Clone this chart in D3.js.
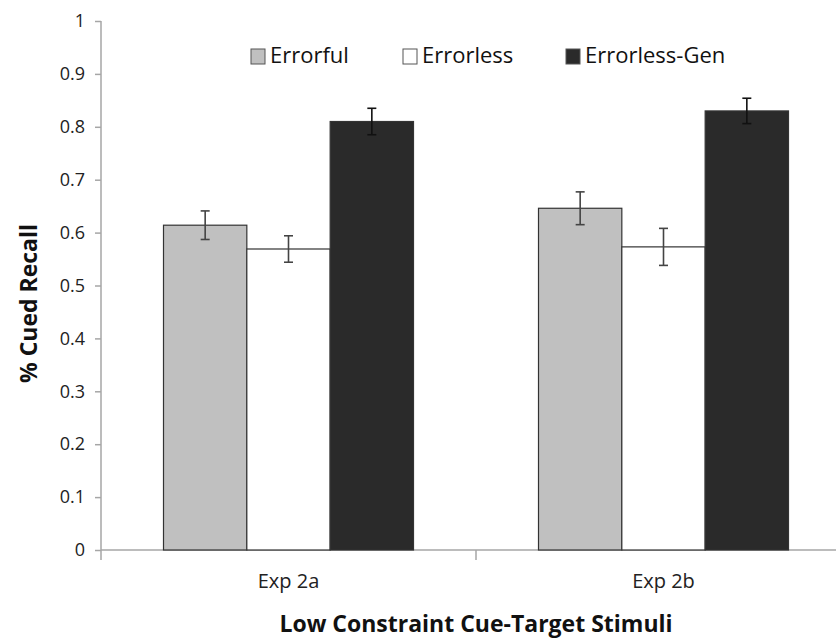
<!DOCTYPE html>
<html>
<head>
<meta charset="utf-8">
<script src="https://cdn.jsdelivr.net/npm/d3@7"></script>
<style>
  body { margin: 0; background: #fff; }
  svg { display: block; font-family: "Open Sans", Lato, sans-serif; }
</style>
</head>
<body>
<svg id="chart"></svg>
<script>
// data
const groups = ["Exp 2a", "Exp 2b"];
const series = ["Errorful", "Errorless", "Errorless-Gen"];
const means = [
    [0.614, 0.569, 0.810],
    [0.646, 0.573, 0.830],
];
const errors = [
    [0.027, 0.025, 0.025],
    [0.031, 0.035, 0.024],
];
const yTicks = [0, 0.1, 0.2, 0.3, 0.4, 0.5, 0.6, 0.7, 0.8, 0.9, 1];
const fills = ["#c0c0c0", "#ffffff", "#2a2a2a"];

const width = 836;
const height = 640;
const axisColor = "#a6a6a6";
const font = "'Open Sans', Lato, sans-serif";

let svg = d3.select("#chart").attr("width", width).attr("height", height);

// scales
let scaleY = d3.scaleLinear().domain([0, 1]).range([550, 21]);
let scaleX = d3.scaleBand()
    .domain(groups)
    .range([101, 851])
    .paddingInner(1 / 3)
    .paddingOuter(1 / 6);
let scaleSub = d3.scaleBand().domain(series).range([0, scaleX.bandwidth()]);

// y axis
let axisY = svg.append("g")
    .attr("transform", `translate(${scaleX.range()[0]}, 0)`)
    .call(d3.axisLeft(scaleY).tickValues(yTicks).tickSize(6).tickPadding(10)
        .tickFormat((d) => String(+d.toFixed(1))));
axisY.select(".domain").remove();
axisY.selectAll(".tick line").attr("stroke", axisColor).attr("stroke-width", 1.5);
axisY.selectAll("text").attr("fill", "#222").style("font-size", "18px").style("font-family", font);
axisY.append("line")
    .attr("x1", 0).attr("x2", 0)
    .attr("y1", scaleY(1)).attr("y2", scaleY(0) + 10)
    .attr("stroke", axisColor).attr("stroke-width", 1.5);

// x axis (line + tick marks between categories + labels)
let axisX = svg.append("g").attr("transform", `translate(0, ${scaleY(0)})`);
axisX.append("line")
    .attr("x1", scaleX.range()[0]).attr("x2", scaleX.range()[1])
    .attr("stroke", axisColor).attr("stroke-width", 1.5);
let step = scaleX.step();
let boundaries = groups.slice(1).map((g) => scaleX(g) - step / 6);
axisX.selectAll(".bound")
    .data(boundaries)
    .enter()
    .append("line")
    .attr("x1", (d) => d).attr("x2", (d) => d)
    .attr("y1", 0).attr("y2", 10)
    .attr("stroke", axisColor).attr("stroke-width", 1.5);
axisX.selectAll(".xlab")
    .data(groups)
    .enter()
    .append("text")
    .attr("x", (d) => scaleX(d) + scaleX.bandwidth() / 2)
    .attr("y", 38)
    .attr("text-anchor", "middle")
    .attr("fill", "#222")
    .style("font-size", "20px")
    .text((d) => d);

// bars
let flat = [];
groups.forEach((g, i) => {
    series.forEach((s, j) => {
        flat.push({ group: g, key: s, value: means[i][j], err: errors[i][j], fill: fills[j] });
    });
});

svg.selectAll(".bar")
    .data(flat)
    .enter()
    .append("rect")
    .attr("x", (d) => scaleX(d.group) + scaleSub(d.key))
    .attr("y", (d) => scaleY(d.value))
    .attr("width", scaleSub.bandwidth())
    .attr("height", (d) => scaleY(0) - scaleY(d.value))
    .attr("fill", (d) => d.fill)
    .attr("stroke", "#333")
    .attr("stroke-width", 1.2);

// error bars
let cap = 4.5;
let cx = (d) => scaleX(d.group) + scaleSub(d.key) + scaleSub.bandwidth() / 2;
let eb = svg.selectAll(".err")
    .data(flat)
    .enter()
    .append("g")
    .attr("stroke", (d) => d.key == "Errorless-Gen" ? "#111" : "#444")
    .attr("stroke-width", 1.6);
eb.append("line")
    .attr("x1", cx).attr("x2", cx)
    .attr("y1", (d) => scaleY(d.value + d.err))
    .attr("y2", (d) => scaleY(d.value - d.err));
eb.append("line")
    .attr("x1", (d) => cx(d) - cap).attr("x2", (d) => cx(d) + cap)
    .attr("y1", (d) => scaleY(d.value + d.err))
    .attr("y2", (d) => scaleY(d.value + d.err));
eb.append("line")
    .attr("x1", (d) => cx(d) - cap).attr("x2", (d) => cx(d) + cap)
    .attr("y1", (d) => scaleY(d.value - d.err))
    .attr("y2", (d) => scaleY(d.value - d.err));

// legend
const legendX = [251, 403, 566];
let legend = svg.selectAll(".legend")
    .data(series)
    .enter()
    .append("g")
    .attr("transform", (d, i) => `translate(${legendX[i]}, 49)`);
legend.append("rect")
    .attr("width", 14).attr("height", 15)
    .attr("fill", (d, i) => fills[i])
    .attr("stroke", "#555").attr("stroke-width", 1);
legend.append("text")
    .attr("x", 19).attr("y", 14)
    .attr("fill", "#111")
    .style("font-size", "22px")
    .text((d) => d);

// axis titles
svg.append("text")
    .attr("transform", `translate(37, ${(scaleY(0) + scaleY(1)) / 2 + 18}) rotate(-90)`)
    .attr("text-anchor", "middle")
    .attr("fill", "#111")
    .style("font-size", "23px").style("font-weight", "bold")
    .text("% Cued Recall");
svg.append("text")
    .attr("x", (scaleX.range()[0] + scaleX.range()[1]) / 2)
    .attr("y", 632)
    .attr("text-anchor", "middle")
    .attr("fill", "#111")
    .style("font-size", "23px").style("font-weight", "bold")
    .text("Low Constraint Cue-Target Stimuli");
</script>
</body>
</html>
